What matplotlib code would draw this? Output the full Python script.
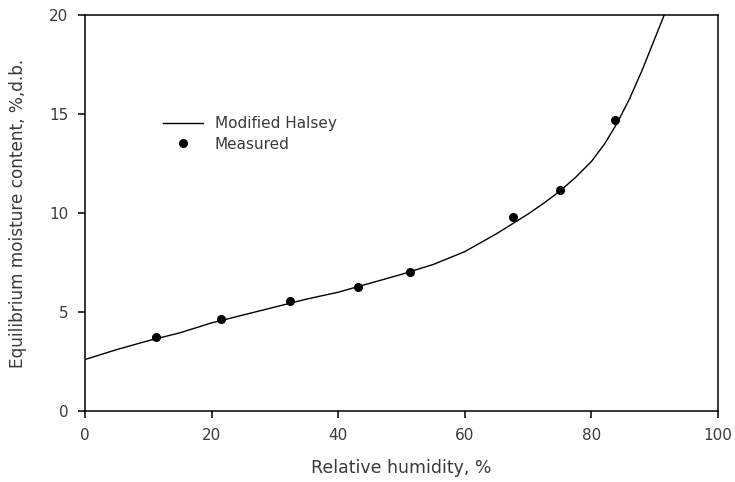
import matplotlib
matplotlib.use('Agg')
from matplotlib import pyplot as plt

# Measured equilibrium moisture content (% d.b.) vs relative humidity (%)
rh_measured = [11.2, 21.5, 32.4, 43.1, 51.3, 67.6, 75.0, 83.7]
emc_measured = [3.75, 4.65, 5.55, 6.25, 7.02, 9.8, 11.15, 14.7]

# Modified Halsey curve, sampled
rh_model = [0, 5, 10, 15, 20, 25, 30, 35, 40, 45, 50, 55, 60, 62.5, 65, 67.5,
            70, 72.5, 75, 77.5, 80, 82, 84, 86, 88, 90, 92]
emc_model = [2.6, 3.1, 3.55, 3.95, 4.45, 4.85, 5.25, 5.65, 6.0, 6.45, 6.9, 7.4,
             8.05, 8.5, 8.95, 9.45, 9.95, 10.5, 11.1, 11.8, 12.6, 13.45, 14.5,
             15.75, 17.2, 18.8, 20.4]

xticks = [0, 20, 40, 60, 80, 100]
yticks = [0, 5, 10, 15, 20]

plt.rcParams['font.family'] = ['DejaVu Sans']
txt = '#3a3a3a'

fig = plt.figure(figsize=(7.35, 4.82), dpi=100)
ax = fig.add_axes([85/735, 1 - 411/482, 633/735, 396/482])

ax.plot(rh_model, emc_model, color='black', lw=1.0, label='Modified Halsey')
ax.plot(rh_measured, emc_measured, 'o', color='black', ms=5.5, label='Measured')

ax.set_xlim(0, 100)
ax.set_ylim(0, 20)
ax.set_xticks(xticks)
ax.set_yticks(yticks)
ax.tick_params(direction='out', length=5, width=1.1, labelsize=11, colors='black',
               labelcolor=txt, top=False, right=False, pad=7)
for s in ax.spines.values():
    s.set_linewidth(1.1)

ax.set_xlabel('Relative humidity, %', fontsize=12.5, color=txt, labelpad=12)
ax.set_ylabel('Equilibrium moisture content, %,d.b.', fontsize=12.2, color=txt, labelpad=16)

ax.legend(loc='upper left', bbox_to_anchor=(0.123, 0.744), frameon=False, fontsize=11,
          handlelength=2.6, handletextpad=0.8, labelspacing=0.35, borderpad=0,
          borderaxespad=0, labelcolor=txt)

fig.savefig('out.png', dpi=100)
